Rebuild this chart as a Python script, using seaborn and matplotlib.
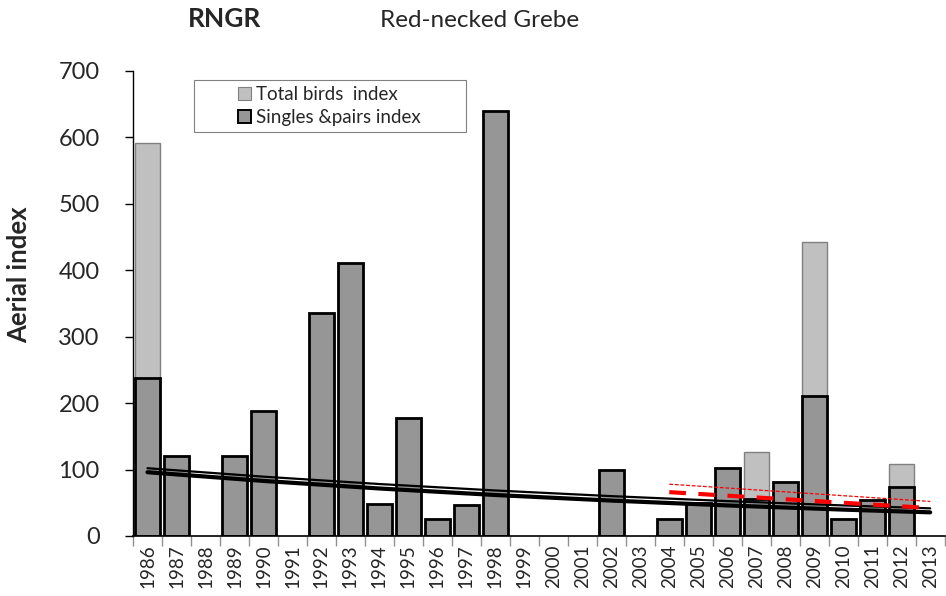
import matplotlib
matplotlib.use('Agg')
import matplotlib.pyplot as plt
import seaborn as sns
import pandas as pd
import numpy as np
from matplotlib.patches import Patch, Rectangle

years = [str(y) for y in range(1986, 2014)]

# singles & pairs index (None = no survey)
singles = [238, 120, None, 120, 188, None, 335, 411, 48, 177, 25, 47, 640, None,
           None, None, 100, None, 25, 50, 102, 55, 82, 210, 25, 54, 73, None]
# total birds index
total = [592, 120, None, 120, 188, None, 335, 411, 48, 177, 25, 47, 640, None,
         None, None, 100, None, 25, 50, 102, 127, 82, 443, 25, 54, 109, None]

# trend lines
trend_years = ['1986', '1990', '1994', '1998', '2002', '2006', '2010', '2013']
trend_total = [102, 89.3, 78.2, 68.5, 60.0, 52.5, 46.0, 41.6]
trend_singles = [96, 82.9, 71.5, 61.7, 53.3, 46.0, 39.7, 35.6]
recent_years = ['2004', '2013']
recent_singles = [66, 42]
recent_total = [78, 52]

sns.set_style('white')
plt.rcParams['font.family'] = ['Lato', 'DejaVu Sans']

df = pd.DataFrame({'Year': years,
                   'Singles': np.array(singles, dtype=float),
                   'Total': np.array(total, dtype=float)})

fig = plt.figure(figsize=(9.46, 5.96), dpi=100)
ax = fig.add_axes([0.1406, 0.1007, 0.858, 0.7802])

sns.barplot(data=df, x='Year', y='Total', order=years, color='#c0c0c0',
            saturation=1, width=0.85, edgecolor='#808080', linewidth=1,
            errorbar=None, ax=ax)
sns.barplot(data=df, x='Year', y='Singles', order=years, color='#969696',
            saturation=1, width=0.85, edgecolor='black', linewidth=2,
            errorbar=None, ax=ax)

pos = {y: i for i, y in enumerate(years)}
tx = [pos[y] for y in trend_years]
ax.plot(tx, trend_total, color='black', lw=1.6, zorder=5)
ax.plot(tx, trend_singles, color='black', lw=3, zorder=5)
rx = [pos[y] for y in recent_years]
ax.plot(rx, recent_singles, color='red', lw=3, ls=(0, (4, 3)), zorder=6)
ax.plot(rx, recent_total, color='red', lw=0.9, ls=(0, (3, 1.5)), zorder=6)

ax.set_xlim(-0.5, 27.5)
ax.set_ylim(0, 700)
ax.set_yticks(range(0, 701, 100))
ax.set_xlabel('')
ax.set_ylabel('')
fig.text(0.02, 0.539, 'Aerial index', fontsize=18.5, fontweight='bold',
         rotation=90, ha='center', va='center')
ax.tick_params(axis='y', labelsize=17, length=6, width=1, color='black',
               left=True, direction='out', pad=18)
ax.tick_params(axis='x', labelsize=13.5, rotation=90, length=0, pad=6)
# tick marks between categories
ax.set_xticks(np.arange(-0.5, 28, 1), minor=True)
ax.tick_params(axis='x', which='minor', length=7, color='#909090', width=1,
               bottom=True, direction='out')
sns.despine(ax=ax, top=True, right=True)
ax.spines['left'].set_color('black')
ax.spines['bottom'].set_color('black')
ax.spines['left'].set_linewidth(1)
ax.spines['bottom'].set_linewidth(1.2)

# legend frame drawn separately so the entries can sit centred in it
ax.add_patch(Rectangle((0.075, 0.869), 0.335, 0.112, transform=ax.transAxes,
                       facecolor='white', edgecolor='#808080', lw=0.8,
                       zorder=9, clip_on=False))
handles = [Patch(facecolor='#c0c0c0', edgecolor='#808080', lw=0.8),
           Patch(facecolor='#969696', edgecolor='black', lw=1.4)]
leg = ax.legend(handles, ['Total birds  index', 'Singles &pairs index'],
                loc='center left', bbox_to_anchor=(0.129, 0.925),
                fontsize=13.5, frameon=False,
                handlelength=0.7, handleheight=0.7, handletextpad=0.25,
                labelspacing=0.3, borderpad=0, borderaxespad=0)
leg.set_zorder(10)

fig.text(0.237, 0.955, 'RNGR', fontsize=19, fontweight='bold', ha='center', va='baseline')
fig.text(0.507, 0.955, 'Red-necked Grebe', fontsize=17.5, ha='center', va='baseline')

fig.savefig('out.png', dpi=100)
